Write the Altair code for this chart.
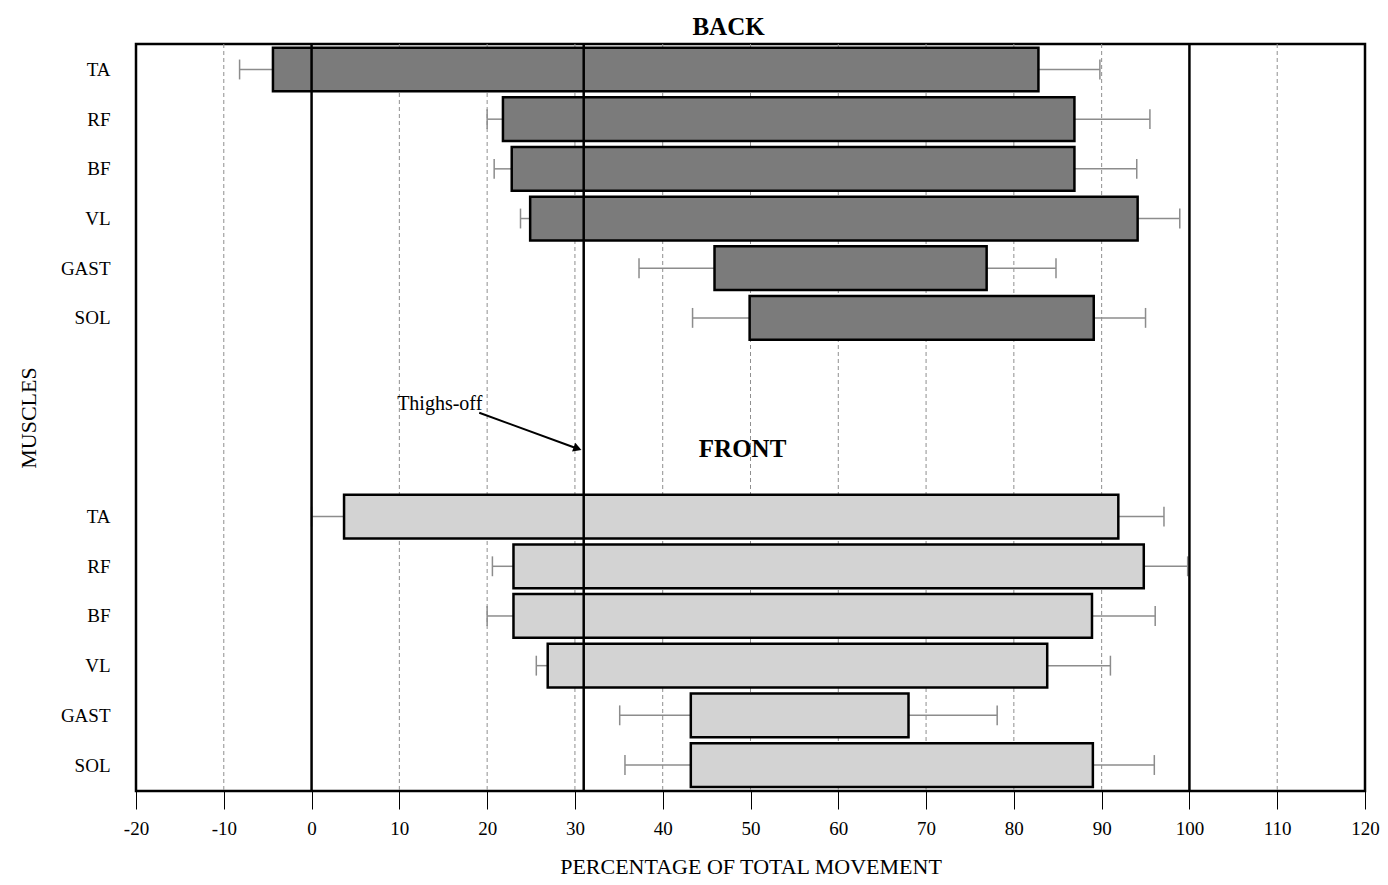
import altair as alt
import pandas as pd

# ---- data ----
muscles = ["TA", "RF", "BF", "VL", "GAST", "SOL"]

back_start = [-4.4, 21.8, 22.8, 24.9, 45.9, 49.9]
back_end = [82.8, 86.9, 86.9, 94.1, 76.9, 89.1]
back_err_lo = [-8.2, 20.0, 20.8, 23.8, 37.3, 43.4]
back_err_hi = [89.8, 95.5, 94.0, 98.9, 84.8, 95.0]

front_start = [3.7, 23.0, 23.0, 26.9, 43.2, 43.2]
front_end = [91.9, 94.8, 88.9, 83.8, 68.0, 89.0]
front_err_lo = [0.0, 20.6, 20.0, 25.6, 35.1, 35.7]
front_err_hi = [97.1, 99.8, 96.1, 91.0, 78.1, 96.0]

x_ticks = list(range(-20, 121, 10))
grid_dashed = [-10, 10, 20, 30, 40, 50, 60, 70, 80, 90, 110]
ref_lines = [0, 31, 100]  # movement start, thighs-off, movement end

FRONT_OFFSET = 9  # rows between first BACK and first FRONT muscle

rows = []
for i, m in enumerate(muscles):
    rows.append(dict(group="BACK", muscle=m, row=i, start=back_start[i], end=back_end[i],
                     lo=back_err_lo[i], hi=back_err_hi[i]))
for i, m in enumerate(muscles):
    rows.append(dict(group="FRONT", muscle=m, row=i + FRONT_OFFSET, start=front_start[i],
                     end=front_end[i], lo=front_err_lo[i], hi=front_err_hi[i]))
df = pd.DataFrame(rows)

label_list = muscles + [""] * (FRONT_OFFSET - len(muscles)) + muscles
label_expr = "[" + ",".join("'" + s + "'" for s in label_list) + "][datum.value]"
y_vals = list(range(len(muscles))) + list(range(FRONT_OFFSET, FRONT_OFFSET + len(muscles)))

FONT = "Liberation Serif"
W, H = 1229, 747

xscale = alt.Scale(domain=[-20, 120], nice=False, zero=False)
yscale = alt.Scale(domain=[-0.513, 14.523], reverse=True, nice=False, zero=False)

base = alt.Chart(df)

x_axis = alt.Axis(values=x_ticks, labelExpr="'' + datum.value", grid=False, domain=False,
                  tickColor="black", tickSize=18,
                  tickWidth=1, labelFont=FONT, labelFontSize=19, labelColor="black",
                  labelPadding=10, labelFlush=False,
                  title="PERCENTAGE OF TOTAL MOVEMENT", titleFont=FONT, titleFontSize=22,
                  titleFontWeight="normal", titleColor="black", titleY=82,
                  titleBaseline="alphabetic")
y_axis = alt.Axis(values=y_vals, labelExpr=label_expr, grid=False, domain=False, ticks=False,
                  labelFont=FONT, labelFontSize=19, labelColor="black", labelPadding=26,
                  title="MUSCLES", titleFont=FONT, titleFontSize=22, titleFontWeight="normal",
                  titleColor="black", titleAngle=270, titleX=-101, titleY=H / 2,
                  titleAlign="center", titleBaseline="alphabetic")

grid = alt.Chart(pd.DataFrame({"v": grid_dashed})).mark_rule(
    color="#8f8f8f", strokeWidth=1, strokeDash=[4, 3]
).encode(x=alt.X("v:Q", scale=xscale, axis=x_axis))

err_left = base.mark_rule(color="#8c8c8c", strokeWidth=1.5).encode(
    x=alt.X("lo:Q", scale=xscale), x2="start:Q",
    y=alt.Y("row:Q", scale=yscale, axis=y_axis))
err_right = base.mark_rule(color="#8c8c8c", strokeWidth=1.5).encode(
    x=alt.X("end:Q", scale=xscale), x2="hi:Q",
    y=alt.Y("row:Q", scale=yscale))
caps_lo = base.transform_calculate(c0="datum.row - 0.2", c1="datum.row + 0.2").mark_rule(
    color="#8c8c8c", strokeWidth=1.5).encode(
    x=alt.X("lo:Q", scale=xscale), y=alt.Y("c0:Q", scale=yscale), y2="c1:Q")
caps_hi = base.transform_calculate(c0="datum.row - 0.2", c1="datum.row + 0.2").mark_rule(
    color="#8c8c8c", strokeWidth=1.5).encode(
    x=alt.X("hi:Q", scale=xscale), y=alt.Y("c0:Q", scale=yscale), y2="c1:Q")

bars = base.transform_calculate(b0="datum.row - 0.44", b1="datum.row + 0.44").mark_rect(
    stroke="black", strokeWidth=2.5).encode(
    x=alt.X("start:Q", scale=xscale), x2="end:Q",
    y=alt.Y("b0:Q", scale=yscale), y2="b1:Q",
    fill=alt.Fill("group:N", scale=alt.Scale(domain=["BACK", "FRONT"],
                                             range=["#7b7b7b", "#d3d3d3"]), legend=None))

refs = alt.Chart(pd.DataFrame({"v": ref_lines})).mark_rule(
    color="black", strokeWidth=2.5).encode(x=alt.X("v:Q", scale=xscale))

back_title = alt.Chart(pd.DataFrame({"x": [47.5], "t": ["BACK"]})).mark_text(
    font=FONT, fontSize=25, fontWeight="bold", color="black", baseline="alphabetic"
).encode(x=alt.X("x:Q", scale=xscale), y=alt.value(-9), text="t:N")

front_title = alt.Chart(pd.DataFrame({"x": [49.1], "y": [7.8], "t": ["FRONT"]})).mark_text(
    font=FONT, fontSize=25, fontWeight="bold", color="black", baseline="alphabetic"
).encode(x=alt.X("x:Q", scale=xscale), y=alt.Y("y:Q", scale=yscale), text="t:N")

thigh_text = alt.Chart(pd.DataFrame({"x": [14.6], "y": [6.85], "t": ["Thighs-off"]})).mark_text(
    font=FONT, fontSize=20, color="black", baseline="alphabetic"
).encode(x=alt.X("x:Q", scale=xscale), y=alt.Y("y:Q", scale=yscale), text="t:N")

arrow_df = pd.DataFrame({"x": [19.1, 30.4], "y": [6.91, 7.64], "o": [0, 1]})
arrow_line = alt.Chart(arrow_df).mark_line(color="black", strokeWidth=2).encode(
    x=alt.X("x:Q", scale=xscale), y=alt.Y("y:Q", scale=yscale), order="o:Q")
arrow_head = alt.Chart(pd.DataFrame({"x": [30.3], "y": [7.63]})).mark_point(
    shape="triangle-right", filled=True, color="black", size=90, angle=20, opacity=1
).encode(x=alt.X("x:Q", scale=xscale), y=alt.Y("y:Q", scale=yscale))

chart = alt.layer(
    grid, err_left, err_right, caps_lo, caps_hi, bars, refs,
    back_title, front_title, thigh_text, arrow_line, arrow_head
).properties(
    width=W, height=H,
    autosize=alt.AutoSizeParams(type="none"),
    padding={"left": 128, "top": 36, "right": 15, "bottom": 86},
    background="white",
).configure_view(stroke="black", strokeWidth=2.5)

chart.save("out.html", embed_options={"renderer": "svg", "actions": False})
